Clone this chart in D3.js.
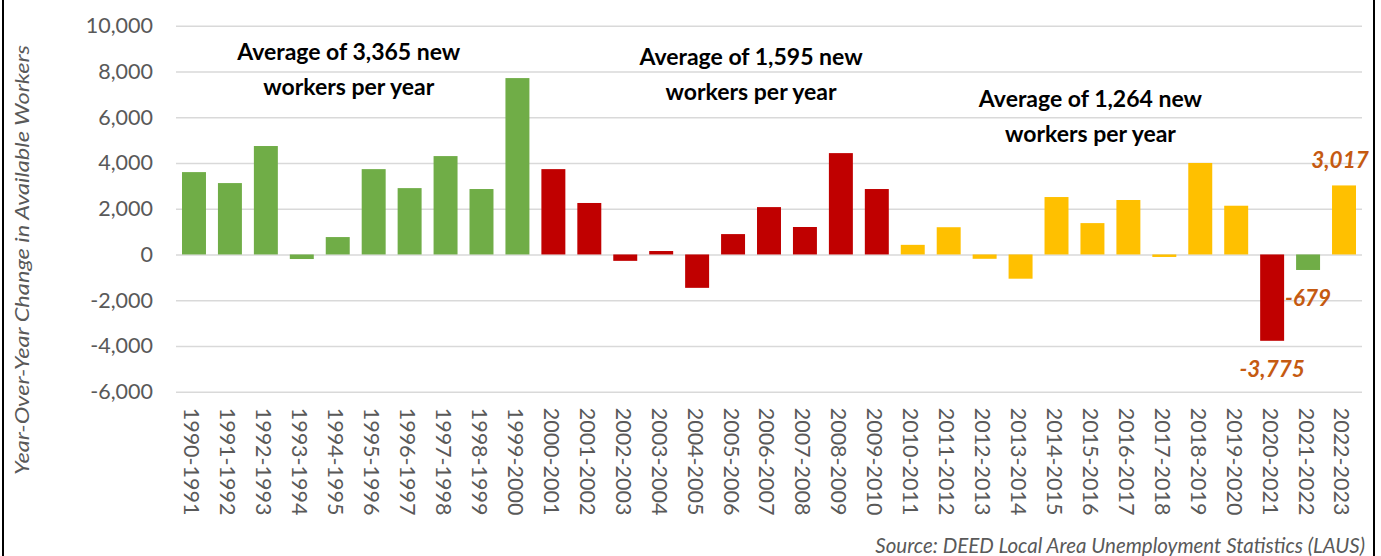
<!doctype html>
<html>
  <head>
    <meta charset="utf-8">
    <script src="https://cdnjs.cloudflare.com/ajax/libs/d3/7.8.5/d3.min.js"></script>
    <style>
      body { margin: 0; background: #fff; }
      svg { display: block; }
    </style>
  </head>
  <body>
    <svg></svg>
    <script>
      var width = 1381,
          height = 556;

      // data
      var periods = ["1990-1991","1991-1992","1992-1993","1993-1994","1994-1995","1995-1996","1996-1997",
        "1997-1998","1998-1999","1999-2000","2000-2001","2001-2002","2002-2003","2003-2004","2004-2005",
        "2005-2006","2006-2007","2007-2008","2008-2009","2009-2010","2010-2011","2011-2012","2012-2013",
        "2013-2014","2014-2015","2015-2016","2016-2017","2017-2018","2018-2019","2019-2020","2020-2021",
        "2021-2022","2022-2023"];
      var change = [3600, 3120, 4740, -200, 760, 3730, 2900, 4300, 2860, 7710, 3730, 2250, -280, 150, -1460,
        890, 2070, 1200, 4430, 2860, 420, 1190, -190, -1060, 2510, 1370, 2380, -110, 4000, 2130, -3775,
        -679, 3017];
      // colour group for each bar: g = 1990s, r = 2000s, y = 2010s
      var group = ["g","g","g","g","g","g","g","g","g","g","r","r","r","r","r","r","r","r","r","r",
        "y","y","y","y","y","y","y","y","y","y","r","g","y"];
      var labelled = ["2020-2021","2021-2022","2022-2023"];
      var yTicks = [-6000, -4000, -2000, 0, 2000, 4000, 6000, 8000, 10000];
      var notes = [
        ["Average of 3,365 new", "workers per year"],
        ["Average of 1,595 new", "workers per year"],
        ["Average of 1,264 new", "workers per year"]
      ];
      var colors = { g: "#70AD47", r: "#C00000", y: "#FFC000" };

      var fmt = d3.formatLocale({ decimal: ".", thousands: ",", grouping: [3], currency: ["$", ""], minus: "-" })
        .format(",");

      var svg = d3.select("svg").attr("width", width).attr("height", height);

      var x = d3.scaleBand().domain(periods).range([176, 1362]).paddingInner(0.333).paddingOuter(0.167);
      var y = d3.scaleLinear().domain([-6000, 10000]).range([391.7, 25.7]);

      // frame
      svg.append("line").attr("x1", 3).attr("x2", 3).attr("y1", 0).attr("y2", height)
        .style("stroke", "#000").style("stroke-width", 2);
      svg.append("line").attr("x1", 1374).attr("x2", 1374).attr("y1", 0).attr("y2", height)
        .style("stroke", "#000").style("stroke-width", 2);

      // grid + y labels
      var yAxis = d3.axisLeft(y).tickValues(yTicks).tickSize(-(1362 - 176)).tickPadding(23)
        .tickFormat(fmt);
      var gy = svg.append("g").attr("transform", "translate(176,0)").call(yAxis);
      gy.select(".domain").remove();
      gy.selectAll(".tick line").style("stroke", "#D9D9D9").style("stroke-width", 1.5);
      gy.selectAll(".tick text").style("font-family", "Lato").style("font-size", "21.5px")
        .style("fill", "#595959");

      // bars
      svg.selectAll("rect.bar").data(periods).enter().append("rect")
        .attr("class", "bar")
        .attr("x", function(d) { return x(d); })
        .attr("width", x.bandwidth())
        .attr("y", function(d, i) { return y(Math.max(0, change[i])); })
        .attr("height", function(d, i) { return Math.abs(y(change[i]) - y(0)); })
        .style("fill", function(d, i) { return colors[group[i]]; });

      // x labels
      var xAxis = d3.axisBottom(x).tickSize(0).tickPadding(0);
      var gx = svg.append("g").attr("transform", "translate(-2," + (y(-6000) + 16) + ")").call(xAxis);
      gx.select(".domain").remove();
      gx.selectAll(".tick text")
        .attr("transform", "rotate(90)")
        .attr("dy", "0.35em").attr("x", 0).attr("y", 0)
        .style("text-anchor", "start")
        .style("font-family", "Lato").style("font-size", "21.5px").style("fill", "#595959");

      // data labels
      svg.selectAll("text.val").data(labelled).enter().append("text")
        .attr("class", "val")
        .attr("x", function(d) { return x(d) + x.bandwidth() / 2 + (d == "2022-2023" ? -4 : 0); })
        .attr("y", function(d) {
          var v = change[periods.indexOf(d)];
          return v > 0 ? y(v) - 17 : y(v) + 36;
        })
        .attr("text-anchor", "middle")
        .style("font-family", "Lato").style("font-size", "22.5px").style("font-weight", "bold")
        .style("font-style", "italic").style("fill", "#C55A11")
        .text(function(d) { return fmt(change[periods.indexOf(d)]); });

      // group notes, centred over each decade
      var noteAt = [["1994-1995", 8850], ["2005-2006", 8630], ["2015-2016", 6790]];
      notes.forEach(function(lines, k) {
        var cx = x(noteAt[k][0]) + x.bandwidth() / 2 + [11, 18, -2][k];
        var t = svg.append("text")
          .attr("x", cx).attr("y", y(noteAt[k][1]))
          .attr("text-anchor", "middle")
          .style("font-family", "Lato").style("font-size", "23px").style("font-weight", "bold")
          .style("fill", "#000");
        lines.forEach(function(s, j) {
          t.append("tspan").attr("x", cx).attr("dy", j == 0 ? "0.35em" : 35).text(s);
        });
      });

      // axis title
      svg.append("text")
        .attr("transform", "translate(22,260) rotate(-90)")
        .attr("text-anchor", "middle").attr("dy", "0.35em")
        .attr("textLength", 430).attr("lengthAdjust", "spacingAndGlyphs")
        .style("font-family", "Lato").style("font-size", "20px").style("font-style", "italic")
        .style("fill", "#595959")
        .text("Year-Over-Year Change in Available Workers");

      // source
      svg.append("text")
        .attr("x", 1365).attr("y", 553)
        .attr("text-anchor", "end")
        .style("font-family", "Lato").style("font-size", "20.5px").style("font-style", "italic")
        .style("fill", "#595959")
        .text("Source: DEED Local Area Unemployment Statistics (LAUS)");
    </script>
  </body>
</html>
